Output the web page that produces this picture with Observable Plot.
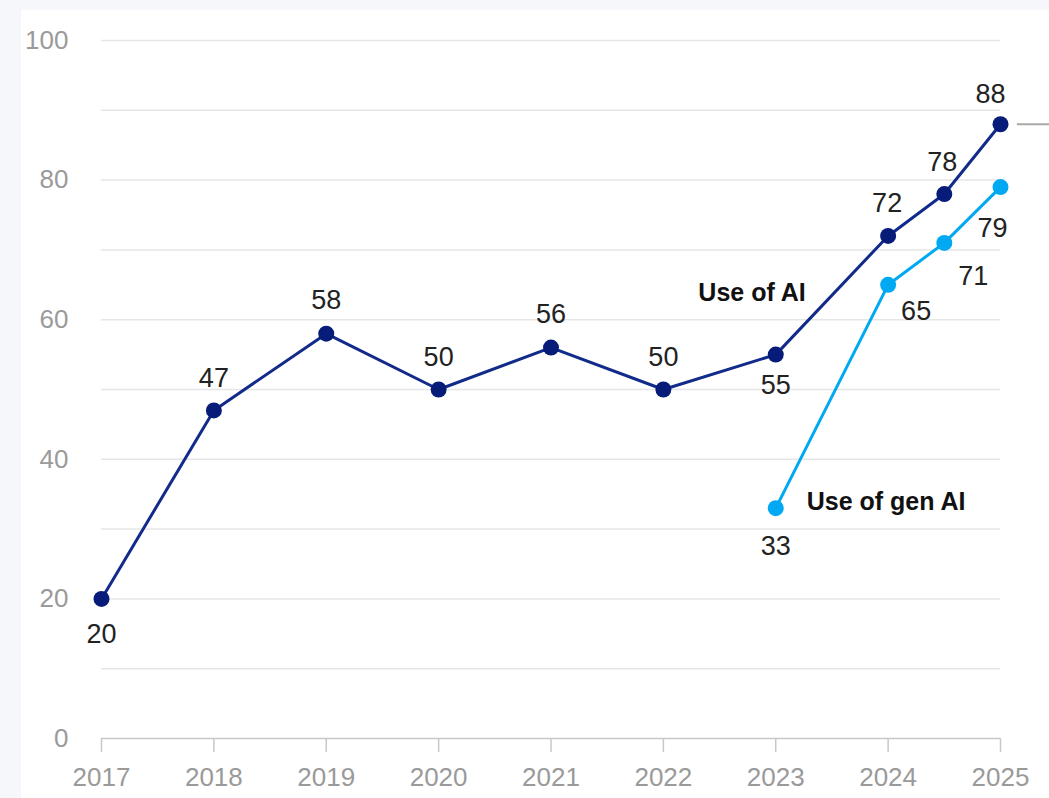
<!DOCTYPE html>
<html>
<head>
<meta charset="utf-8">
<script src="https://cdn.jsdelivr.net/npm/d3@7"></script>
<script src="https://cdn.jsdelivr.net/npm/@observablehq/plot@0.6"></script>
<style>
  html, body { margin: 0; padding: 0; background: #f5f7fa; width: 1049px; height: 798px; overflow: hidden; }
  #panel { position: absolute; left: 21px; top: 10px; width: 1028px; height: 788px; background: #fff; }
  #panel svg { overflow: visible; }
</style>
</head>
<body>
<div id="panel"></div>
<script>
// ---- data ----
const aiYears = [2017, 2018, 2019, 2020, 2021, 2022, 2023, 2024, 2024.5, 2025];
const aiValues = [20, 47, 58, 50, 56, 50, 55, 72, 78, 88];
const genYears = [2023, 2024, 2024.5, 2025];
const genValues = [33, 65, 71, 79];
const xTicks = [2017, 2018, 2019, 2020, 2021, 2022, 2023, 2024, 2025];
const yTicks = [0, 20, 40, 60, 80, 100];
const gridValues = [10, 20, 30, 40, 50, 60, 70, 80, 90, 100];
const seriesNames = ["Use of AI", "Use of gen AI"];

// label offsets (px) per point
const aiOffsets = [[0, 35], [0, -32], [0, -33], [0, -32], [0, -33], [0, -32], [0, 31], [-1, -33], [-2, -32], [-10, -30]];
const genOffsets = [[0, 38], [28, 27], [29, 33], [-8, 41]];

const ai = aiYears.map((x, i) => ({x, y: aiValues[i], dx: aiOffsets[i][0], dy: aiOffsets[i][1]}));
const gen = genYears.map((x, i) => ({x, y: genValues[i], dx: genOffsets[i][0], dy: genOffsets[i][1]}));

const navyLine = "#122a8a";
const navyDot = "#061c78";
const blue = "#00a9f2";
const font = "'Liberation Sans', Arial, sans-serif";

const labelMarks = (data) => data.map(d =>
  Plot.text([d], {x: "x", y: "y", text: p => String(p.y), dx: d.dx, dy: d.dy,
    fill: "#222", fontSize: 27, fontFamily: font})
);

const chart = Plot.plot({
  width: 1028,
  height: 788,
  marginLeft: 80,
  marginRight: 49,
  marginTop: 30,
  marginBottom: 60,
  style: {fontFamily: font, background: "transparent", overflow: "visible"},
  x: {type: "linear", domain: [2017, 2025], axis: null, label: null},
  y: {type: "linear", domain: [0, 100], axis: null, label: null},
  marks: [
    Plot.ruleY(gridValues, {stroke: "#e6e6e6", strokeWidth: 1.5}),
    Plot.ruleY([0], {stroke: "#c8c8c8", strokeWidth: 1.5}),
    Plot.axisX(xTicks, {tickSize: 14, tickPadding: 15, stroke: "#c8c8c8", strokeWidth: 1.5,
      fontSize: 26, fill: "#9a9a9a", tickFormat: d => String(d), fontFamily: font, label: null}),
    Plot.axisY(yTicks, {tickSize: 0, tickPadding: 33, fontSize: 26, fill: "#9a9a9a", fontFamily: font, label: null}),
    Plot.ruleY([88], {x1: 2025.15, x2: 2025.5, stroke: "#a8a8a8", strokeWidth: 2}),
    Plot.line(ai, {x: "x", y: "y", stroke: navyLine, strokeWidth: 3}),
    Plot.line(gen, {x: "x", y: "y", stroke: blue, strokeWidth: 3}),
    Plot.dot(ai, {x: "x", y: "y", r: 8, fill: navyDot}),
    Plot.dot(gen, {x: "x", y: "y", r: 8, fill: blue}),
    ...labelMarks(ai),
    ...labelMarks(gen),
    Plot.text([ai[6]], {x: "x", y: "y", text: () => seriesNames[0], dx: 30, dy: -62, textAnchor: "end",
      fontWeight: "bold", fontSize: 25, fill: "#111", fontFamily: font}),
    Plot.text([gen[0]], {x: "x", y: "y", text: () => seriesNames[1], dx: 31, dy: -6, textAnchor: "start",
      fontWeight: "bold", fontSize: 25, fill: "#111", fontFamily: font})
  ]
});
document.getElementById("panel").appendChild(chart);
</script>
</body>
</html>
